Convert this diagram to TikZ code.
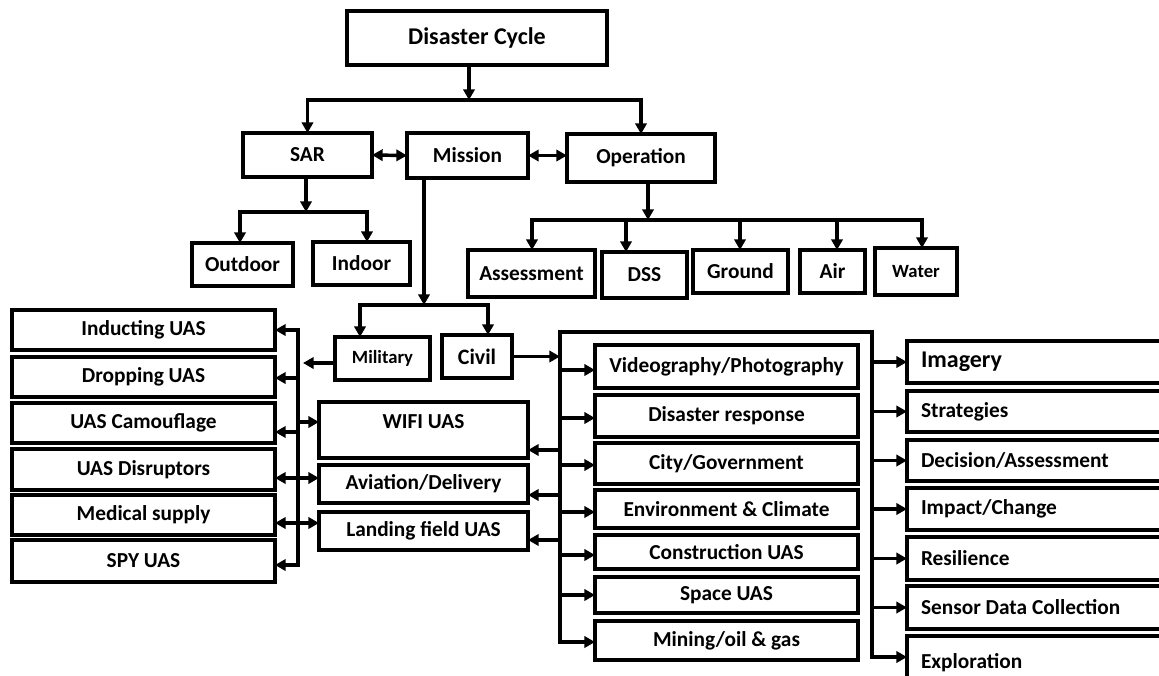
\documentclass[tikz,border=0pt]{standalone}
\usepackage{fontspec}
\setmainfont{Carlito}
\usetikzlibrary{arrows.meta}
\tikzset{
  box/.style={draw, line width=2.6pt, inner sep=0pt, outer sep=0pt,
    font=\bfseries\fontsize{16}{18}\selectfont, align=center},
  smallfont/.style={font=\bfseries\fontsize{14}{16}\selectfont},
  con/.style={line width=2.6pt},
  arr/.style={con, -{Triangle[length=8pt,width=8.5pt]}},
  darr/.style={con, {Triangle[length=8pt,width=8.5pt]}-{Triangle[length=8pt,width=8.5pt]}},
}
\newcommand\mybox[7][]{%
  \pgfmathsetmacro\bxw{0.75*(#5-#3)}%
  \pgfmathsetmacro\bxh{0.75*(#6-#4)}%
  \node[box,minimum width=\bxw pt,minimum height=\bxh pt,#1] (#2) at ({(#3+#5)/2},{(#4+#6)/2}) {#7};}
\newcommand\rbox[5][]{%
  \pgfmathsetmacro\bxh{0.75*(#4-#3)}%
  \node[box,minimum width=201pt,text width=180pt,inner xsep=10.5pt,align=left,minimum height=\bxh pt,#1] (#2) at (1041,{(#3+#4)/2}) {\mbox{\spaceskip=0pt\xspaceskip=0pt #5}};}
\begin{document}
\begin{tikzpicture}[x=0.75pt,y=-0.75pt]
\useasboundingbox (0,0) rectangle (1159,675);
% top level
\mybox[font=\bfseries\fontsize{18}{20}\selectfont]{dc}{347}{11}{607}{65}{Disaster Cycle}
\mybox{sar}{243}{133}{372}{177}{SAR}
\mybox{mi}{407}{133}{528}{178}{Mission}
\mybox{op}{567}{134}{715}{182}{Operation}
\mybox{out}{192}{243}{293}{286}{Outdoor}
\mybox{in}{313}{242}{410}{285}{Indoor}
\mybox{as}{468}{250}{595}{297}{Assessment}
\mybox{dss}{602}{252}{687}{298}{DSS}
\mybox{gr}{693}{250}{788}{293}{Ground}
\mybox{air}{800}{250}{865}{293}{Air}
\mybox[smallfont]{wa}{875}{248}{957}{295}{Water}
\mybox[smallfont]{mil}{335}{337}{430}{380}{Military}
\mybox[font=\bfseries\fontsize{16.5}{18}\selectfont]{civ}{442}{335}{512}{378}{Civil}
% left column
\mybox{ind}{12}{310}{275}{350}{Inducting UAS}
\mybox{drp}{12}{357}{275}{397}{Dropping UAS}
\mybox{cam}{12}{403}{275}{443}{UAS Camouflage}
\mybox{dis}{12}{449}{275}{490}{UAS Disruptors}
\mybox{med}{12}{495}{275}{535}{Medical supply}
\mybox{spy}{12}{540}{275}{582}{SPY UAS}
% middle column
\mybox{wifi}{319}{402}{528}{458}{\smash{\raisebox{1.5pt}{WIFI UAS}}}
\mybox{av}{319}{465}{528}{503}{Aviation/Delivery}
\mybox{land}{319}{512}{528}{550}{Landing field UAS}
% civil column
\mybox{vid}{595}{345}{858}{388}{Videography/Photography}
\mybox{dresp}{595}{395}{858}{437}{Disaster response}
\mybox{city}{595}{443}{858}{484}{City/Government}
\mybox{env}{595}{490}{858}{528}{Environment \& Climate}
\mybox{cons}{595}{535}{858}{569}{Construction UAS}
\mybox{spc}{595}{577}{858}{613}{Space UAS}
\mybox{min}{595}{621}{858}{660}{Mining/oil \& gas}
% right column
\rbox[font=\bfseries\fontsize{18}{20}\selectfont]{img}{341}{383}{Imagery}
\rbox{str}{391}{432}{Strategies}
\rbox{dec}{440}{481}{Decision/Assessment}
\rbox{imp}{488}{530}{Impact/Change}
\rbox{res}{537}{580}{Resilience}
\rbox{sen}{586}{629}{Sensor Data Collection}
\rbox{exp}{636}{690}{Exploration}
% connectors: top
\coordinate (j0) at (469,100);
\draw[arr] (dc.south -| j0) -- (j0);
\draw[darr] (sar.north) |- (j0) -| (op.north);
\draw[darr] (sar.east) -- (mi.west);
\draw[darr] (mi.east) -- (mi.east -| op.west);
% SAR branch
\coordinate (j1) at (306,212);
\coordinate (j1a) at (240,212);
\coordinate (j1b) at (367,212);
\draw[arr] (sar.south -| j1) -- (j1);
\draw[darr] (j1a |- out.north) -- (j1a) -- (j1b) -- (j1b |- in.north);
% Operation branch
\coordinate (j2) at (648,220);
\coordinate (ja) at (532,220);
\coordinate (jw) at (922,220);
\draw[arr] (op.south -| j2) -- (j2);
\draw[darr] (ja |- as.north) -- (ja) -- (jw) -- (jw |- wa.north);
\foreach \n/\x in {dss/626, gr/740, air/837} {
  \coordinate (k\n) at (\x,220);
  \draw[arr] (k\n) -- (k\n |- \n.north);
}
% Mission branch
\coordinate (j3) at (424,305);
\coordinate (j3a) at (360,305);
\coordinate (j3b) at (488,305);
\draw[arr] (mi.south -| j3) -- (j3);
\draw[darr] (j3a |- mil.north) -- (j3a) -- (j3b) -- (j3b |- civ.north);
% Military bus
\coordinate (lbm) at (303,363);
\draw[arr] (mil.west |- lbm) -- (lbm);
\coordinate (lbt) at (298,330);
\coordinate (lbb) at (298,565);
\draw[darr] (ind.east |- lbt) -- (lbt) -- (lbb) -- (spy.east |- lbb);
\foreach \n/\y in {drp/378, cam/432} {
  \coordinate (l\n) at (298,\y);
  \draw[arr] (l\n) -- (l\n -| \n.east);
}
\coordinate (lw) at (298,422);
\draw[arr] (lw) -- (lw -| wifi.west);
\coordinate (lav) at (298,478);
\draw[darr] (dis.east |- lav) -- (av.west |- lav);
\coordinate (lla) at (298,523);
\draw[darr] (med.east |- lla) -- (land.west |- lla);
% Civil bus
\coordinate (cc) at (560,358);
\draw[arr] (civ.east) -- (civ.east -| cc);
\coordinate (cbb) at (560,642);
\coordinate (cbt) at (560,332);
\coordinate (rbt) at (872,332);
\coordinate (rbb) at (872,657);
\draw[darr] (min.west |- cbb) -- (cbb) -- (cbt) -- (rbt) -- (rbb) -- (exp.west |- rbb);
\foreach \n/\y in {vid/370, dresp/418, city/465, env/512, cons/555, spc/595} {
  \coordinate (c\n) at (560,\y);
  \draw[arr] (c\n) -- (c\n -| \n.west);
}
\foreach \n/\y in {wifi/450, av/495, land/540} {
  \coordinate (q\n) at (560,\y);
  \draw[arr] (q\n) -- (q\n -| \n.east);
}
\foreach \n in {img,str,dec,imp,res,sen} {
  \draw[arr] (\n.west -| rbt) -- (\n.west);
}
\end{tikzpicture}
\end{document}
